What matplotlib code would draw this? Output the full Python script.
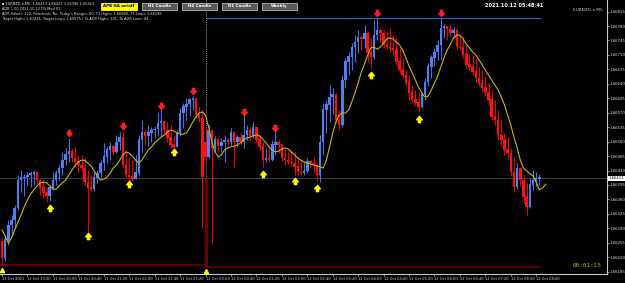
import matplotlib
matplotlib.use('Agg')
import matplotlib.pyplot as plt
import matplotlib.transforms as mtransforms
from matplotlib.path import Path
from matplotlib.patches import Rectangle

# ── DATA: EURNZD.a M5 candles, 11 Oct 18:40 .. 12 Oct 08:45 ──────────
opens = [
    1.66257, 1.66218, 1.66262, 1.66298, 1.66310, 1.66339, 1.66407, 1.66412, 1.66414, 1.66419,
    1.66422, 1.66426, 1.66407, 1.66388, 1.66376, 1.66368, 1.66388, 1.66407, 1.66424, 1.66436,
    1.66455, 1.66470, 1.66475, 1.66460, 1.66451, 1.66443, 1.66436, 1.66402, 1.66388, 1.66385,
    1.66412, 1.66424, 1.66448, 1.66463, 1.66480, 1.66487, 1.66475, 1.66499, 1.66509, 1.66443,
    1.66419, 1.66415, 1.66410, 1.66425, 1.66504, 1.66523, 1.66514, 1.66521, 1.66528, 1.66530,
    1.66545, 1.66548, 1.66528, 1.66509, 1.66492, 1.66487, 1.66521, 1.66569, 1.66584, 1.66590,
    1.66601, 1.66604, 1.66564, 1.66557, 1.66497, 1.66463, 1.66528, 1.66485, 1.66504, 1.66489,
    1.66499, 1.66502, 1.66499, 1.66521, 1.66499, 1.66509, 1.66499, 1.66516, 1.66528, 1.66514,
    1.66535, 1.66504, 1.66487, 1.66455, 1.66460, 1.66455, 1.66492, 1.66499, 1.66492, 1.66460,
    1.66455, 1.66450, 1.66448, 1.66439, 1.66426, 1.66424, 1.66428, 1.66451, 1.66448, 1.66443,
    1.66419, 1.66499, 1.66577, 1.66589, 1.66608, 1.66613, 1.66552, 1.66540, 1.66649, 1.66693,
    1.66705, 1.66729, 1.66741, 1.66753, 1.66748, 1.66763, 1.66715, 1.66705, 1.66758, 1.66770,
    1.66763, 1.66734, 1.66728, 1.66725, 1.66722, 1.66693, 1.66673, 1.66661, 1.66642, 1.66618,
    1.66601, 1.66594, 1.66584, 1.66613, 1.66644, 1.66681, 1.66703, 1.66717, 1.66734, 1.66775,
    1.66778, 1.66772, 1.66763, 1.66770, 1.66729, 1.66727, 1.66710, 1.66686, 1.66681, 1.66669,
    1.66654, 1.66642, 1.66630, 1.66620, 1.66601, 1.66560, 1.66552, 1.66516, 1.66504, 1.66480,
    1.66472, 1.66426, 1.66390, 1.66436, 1.66407, 1.66366, 1.66342, 1.66395, 1.66405, 1.66410,
]
highs = [
    1.66267, 1.66271, 1.66310, 1.66322, 1.66346, 1.66419, 1.66431, 1.66422, 1.66426, 1.66430,
    1.66431, 1.66426, 1.66412, 1.66407, 1.66390, 1.66395, 1.66426, 1.66431, 1.66443, 1.66475,
    1.66485, 1.66509, 1.66485, 1.66487, 1.66468, 1.66468, 1.66460, 1.66431, 1.66419, 1.66426,
    1.66431, 1.66455, 1.66497, 1.66487, 1.66499, 1.66492, 1.66516, 1.66523, 1.66523, 1.66480,
    1.66460, 1.66455, 1.66468, 1.66516, 1.66552, 1.66528, 1.66540, 1.66535, 1.66538, 1.66572,
    1.66577, 1.66552, 1.66548, 1.66540, 1.66516, 1.66528, 1.66581, 1.66594, 1.66606, 1.66606,
    1.66610, 1.66601, 1.66584, 1.66577, 1.66533, 1.66540, 1.66530, 1.66514, 1.66509, 1.66509,
    1.66516, 1.66509, 1.66533, 1.66525, 1.66516, 1.66521, 1.66564, 1.66540, 1.66533, 1.66548,
    1.66535, 1.66516, 1.66499, 1.66485, 1.66485, 1.66504, 1.66526, 1.66504, 1.66497, 1.66482,
    1.66475, 1.66480, 1.66475, 1.66463, 1.66455, 1.66451, 1.66460, 1.66455, 1.66463, 1.66448,
    1.66516, 1.66594, 1.66601, 1.66637, 1.66630, 1.66618, 1.66577, 1.66661, 1.66703, 1.66717,
    1.66739, 1.66758, 1.66770, 1.66756, 1.66782, 1.66768, 1.66751, 1.66795, 1.66799, 1.66775,
    1.66770, 1.66765, 1.66775, 1.66758, 1.66751, 1.66727, 1.66703, 1.66673, 1.66661, 1.66637,
    1.66625, 1.66620, 1.66620, 1.66654, 1.66690, 1.66710, 1.66727, 1.66746, 1.66799, 1.66785,
    1.66780, 1.66782, 1.66778, 1.66775, 1.66761, 1.66753, 1.66734, 1.66712, 1.66710, 1.66703,
    1.66681, 1.66673, 1.66657, 1.66644, 1.66625, 1.66601, 1.66577, 1.66552, 1.66521, 1.66511,
    1.66485, 1.66463, 1.66448, 1.66439, 1.66419, 1.66402, 1.66412, 1.66431, 1.66426, 1.66421,
]
lows = [
    1.66201, 1.66212, 1.66250, 1.66271, 1.66296, 1.66335, 1.66378, 1.66368, 1.66393, 1.66390,
    1.66395, 1.66400, 1.66371, 1.66363, 1.66354, 1.66356, 1.66383, 1.66395, 1.66407, 1.66419,
    1.66443, 1.66451, 1.66451, 1.66441, 1.66424, 1.66430, 1.66395, 1.66281, 1.66380, 1.66380,
    1.66400, 1.66412, 1.66431, 1.66448, 1.66455, 1.66468, 1.66472, 1.66480, 1.66436, 1.66412,
    1.66405, 1.66405, 1.66410, 1.66420, 1.66472, 1.66492, 1.66489, 1.66499, 1.66509, 1.66514,
    1.66514, 1.66521, 1.66499, 1.66485, 1.66480, 1.66487, 1.66514, 1.66533, 1.66552, 1.66562,
    1.66577, 1.66557, 1.66548, 1.66291, 1.66443, 1.66460, 1.66254, 1.66475, 1.66480, 1.66475,
    1.66451, 1.66485, 1.66489, 1.66439, 1.66487, 1.66492, 1.66485, 1.66504, 1.66504, 1.66509,
    1.66497, 1.66480, 1.66439, 1.66451, 1.66450, 1.66452, 1.66468, 1.66472, 1.66453, 1.66443,
    1.66445, 1.66441, 1.66419, 1.66420, 1.66418, 1.66420, 1.66425, 1.66436, 1.66424, 1.66405,
    1.66402, 1.66468, 1.66521, 1.66548, 1.66567, 1.66545, 1.66528, 1.66535, 1.66630, 1.66661,
    1.66673, 1.66693, 1.66715, 1.66722, 1.66727, 1.66693, 1.66678, 1.66700, 1.66746, 1.66741,
    1.66727, 1.66722, 1.66718, 1.66710, 1.66686, 1.66666, 1.66654, 1.66635, 1.66601, 1.66594,
    1.66586, 1.66572, 1.66581, 1.66601, 1.66635, 1.66654, 1.66683, 1.66698, 1.66698, 1.66751,
    1.66746, 1.66756, 1.66753, 1.66722, 1.66722, 1.66703, 1.66678, 1.66673, 1.66661, 1.66644,
    1.66635, 1.66620, 1.66610, 1.66589, 1.66552, 1.66540, 1.66504, 1.66492, 1.66468, 1.66460,
    1.66417, 1.66378, 1.66385, 1.66395, 1.66351, 1.66322, 1.66340, 1.66383, 1.66393, 1.66396,
]
closes = [
    1.66218, 1.66262, 1.66298, 1.66310, 1.66339, 1.66407, 1.66412, 1.66414, 1.66419, 1.66422,
    1.66426, 1.66407, 1.66388, 1.66376, 1.66368, 1.66388, 1.66407, 1.66424, 1.66436, 1.66455,
    1.66470, 1.66475, 1.66460, 1.66451, 1.66443, 1.66436, 1.66402, 1.66388, 1.66385, 1.66412,
    1.66424, 1.66448, 1.66463, 1.66480, 1.66487, 1.66475, 1.66499, 1.66509, 1.66443, 1.66419,
    1.66415, 1.66410, 1.66425, 1.66504, 1.66523, 1.66514, 1.66521, 1.66528, 1.66530, 1.66545,
    1.66548, 1.66528, 1.66509, 1.66492, 1.66487, 1.66521, 1.66569, 1.66584, 1.66590, 1.66601,
    1.66604, 1.66564, 1.66557, 1.66414, 1.66463, 1.66528, 1.66485, 1.66504, 1.66489, 1.66499,
    1.66502, 1.66499, 1.66521, 1.66499, 1.66509, 1.66499, 1.66516, 1.66528, 1.66514, 1.66535,
    1.66504, 1.66487, 1.66455, 1.66460, 1.66455, 1.66492, 1.66499, 1.66492, 1.66460, 1.66455,
    1.66450, 1.66448, 1.66439, 1.66426, 1.66424, 1.66428, 1.66451, 1.66448, 1.66443, 1.66419,
    1.66499, 1.66577, 1.66589, 1.66608, 1.66613, 1.66552, 1.66540, 1.66649, 1.66693, 1.66705,
    1.66729, 1.66741, 1.66753, 1.66748, 1.66763, 1.66715, 1.66705, 1.66758, 1.66770, 1.66763,
    1.66734, 1.66728, 1.66725, 1.66722, 1.66693, 1.66673, 1.66661, 1.66642, 1.66618, 1.66601,
    1.66594, 1.66584, 1.66613, 1.66644, 1.66681, 1.66703, 1.66717, 1.66734, 1.66775, 1.66778,
    1.66772, 1.66763, 1.66770, 1.66729, 1.66727, 1.66710, 1.66686, 1.66681, 1.66669, 1.66654,
    1.66642, 1.66630, 1.66620, 1.66601, 1.66560, 1.66552, 1.66516, 1.66504, 1.66480, 1.66472,
    1.66426, 1.66390, 1.66436, 1.66407, 1.66366, 1.66342, 1.66395, 1.66405, 1.66410, 1.66413,
]
# yellow moving average (drawn 2 bars past the last candle)
ma = [
    1.66286, 1.66271, 1.66254, 1.66267, 1.66286, 1.66305, 1.66322, 1.66342, 1.66359, 1.66373,
    1.66383, 1.66393, 1.66400, 1.66402, 1.66400, 1.66393, 1.66385, 1.66385, 1.66393, 1.66400,
    1.66407, 1.66419, 1.66431, 1.66443, 1.66451, 1.66455, 1.66455, 1.66448, 1.66441, 1.66429,
    1.66417, 1.66407, 1.66409, 1.66414, 1.66424, 1.66436, 1.66443, 1.66455, 1.66468, 1.66475,
    1.66472, 1.66465, 1.66455, 1.66448, 1.66455, 1.66468, 1.66480, 1.66487, 1.66497, 1.66504,
    1.66511, 1.66516, 1.66523, 1.66528, 1.66526, 1.66521, 1.66518, 1.66518, 1.66521, 1.66533,
    1.66548, 1.66560, 1.66569, 1.66572, 1.66564, 1.66535, 1.66499, 1.66475, 1.66463, 1.66468,
    1.66480, 1.66485, 1.66487, 1.66489, 1.66492, 1.66497, 1.66504, 1.66509, 1.66511, 1.66514,
    1.66516, 1.66514, 1.66506, 1.66497, 1.66487, 1.66480, 1.66475, 1.66477, 1.66482, 1.66485,
    1.66482, 1.66475, 1.66468, 1.66460, 1.66455, 1.66451, 1.66448, 1.66446, 1.66443, 1.66441,
    1.66439, 1.66436, 1.66455, 1.66487, 1.66521, 1.66548, 1.66564, 1.66569, 1.66569, 1.66577,
    1.66596, 1.66618, 1.66642, 1.66669, 1.66688, 1.66710, 1.66727, 1.66729, 1.66724, 1.66729,
    1.66739, 1.66749, 1.66751, 1.66749, 1.66741, 1.66734, 1.66722, 1.66703, 1.66683, 1.66666,
    1.66649, 1.66632, 1.66618, 1.66608, 1.66610, 1.66625, 1.66642, 1.66659, 1.66681, 1.66703,
    1.66722, 1.66736, 1.66751, 1.66758, 1.66758, 1.66749, 1.66736, 1.66727, 1.66717, 1.66710,
    1.66698, 1.66686, 1.66673, 1.66661, 1.66649, 1.66637, 1.66625, 1.66608, 1.66589, 1.66564,
    1.66540, 1.66511, 1.66485, 1.66455, 1.66436, 1.66429, 1.66422, 1.66417, 1.66402, 1.66383,
    1.66388, 1.66397,
]

# fractal arrows (bar index, price)
red_arrow_bars = [21, 38, 50, 60, 76, 86, 118, 138]
red_arrow_price = [1.66521, 1.66538, 1.66586, 1.66623, 1.66572, 1.66533, 1.66811, 1.66811]
yel_arrow_bars = [15, 27, 40, 54, 82, 92, 99, 116, 131]
yel_arrow_price = [1.66339, 1.66271, 1.66397, 1.66475, 1.66422, 1.66405, 1.66388, 1.66661, 1.66555]

time_labels = ["11 Oct 2021", "11 Oct 19:20", "11 Oct 20:00", "11 Oct 20:40", "11 Oct 21:20",
               "11 Oct 22:00", "11 Oct 22:40", "11 Oct 23:20", "12 Oct 00:00", "12 Oct 00:40",
               "12 Oct 01:20", "12 Oct 02:00", "12 Oct 02:40", "12 Oct 03:20", "12 Oct 04:00",
               "12 Oct 04:40", "12 Oct 05:20", "12 Oct 06:00", "12 Oct 06:40", "12 Oct 07:20",
               "12 Oct 08:00", "12 Oct 08:40"]
price_ticks = [1.66185, 1.66220, 1.66255, 1.66290, 1.66325, 1.66360, 1.66395, 1.66430,
               1.66465, 1.66500, 1.66535, 1.66570, 1.66605, 1.66640, 1.66675, 1.66710,
               1.66745, 1.66780, 1.66815]

bid = 1.66411
t1_high = 1.66800
t1_low = 1.66196
prev_low = 1.66201
day_start = 64

header = ["\u25aa EURNZD.a,M5  1.66413 1.66421 1.66396 1.66413",
          "ADR 1.00 2021.10.12 D1 Mod 01",
          "ADR Value= 122, Reached= No, Today's Range= 60, T1 High= 1.66800, T1 Low= 1.66196",
          "Target High= 1.67421, Target Low= 1.65575 | To ADR High= 181, To ADR Low= 84"]
buttons = ["APB HA on/off", "H1 Candle", "H4 Candle", "D1 Candle", "Weekly"]

# ── FIGURE ───────────────────────────────────────────────────
W, H = 625, 283
fig = plt.figure(figsize=(W / 100, H / 100), dpi=100, facecolor='black')
ax = fig.add_axes([0, 9 / H, 607 / W, 274 / H])
ax.set_facecolor('black')
ax.set_xlim(-0.63, 190.25)
ax.set_ylim(1.661794, 1.66843)

n = len(closes)
idx = list(range(n))
bull = [c >= o for o, c in zip(opens, closes)]
col_body = ['#4f7ff5' if b else '#ff1010' for b in bull]
col_wick = ['#4470e6' if b else '#ee0000' for b in bull]

# background lines
ax.axhline(bid, color='#3a3a3a', lw=0.8, zorder=1)
ax.vlines(day_start, bid, 1.66843, color='#8a8a8a', lw=0.7, linestyles=(0, (1, 1)), zorder=1)
ax.vlines(day_start + 0.1, t1_low, bid, color='#6e0000', lw=2.2, zorder=1)
ax.hlines(prev_low, -0.63, day_start, color='#6e0000', lw=1.2, zorder=1)
ax.hlines(t1_low, day_start, n - 0.5, color='#6e0000', lw=1.2, zorder=1)
ax.hlines(t1_high, day_start, n - 0.5, color='#2a64c8', lw=0.9, zorder=1)

# candles
ax.vlines(idx, lows, highs, colors=col_wick, lw=0.8, zorder=2)
ax.bar(idx, [abs(c - o) + 0.000012 for o, c in zip(opens, closes)],
       bottom=[min(o, c) for o, c in zip(opens, closes)],
       width=0.78, color=col_body, linewidth=0, zorder=3)

# moving average
ax.plot(range(len(ma)), ma, color='#c8b800', lw=0.8, zorder=4)

# arrows
dn = Path([(-0.35, 1), (0.35, 1), (0.35, 0.1), (0.9, 0.1), (0, -1), (-0.9, 0.1),
           (-0.35, 0.1), (-0.35, 1)],
          [Path.MOVETO] + [Path.LINETO] * 6 + [Path.CLOSEPOLY])
up = Path([(x, -y) for x, y in dn.vertices], dn.codes)
ax.plot(red_arrow_bars, red_arrow_price, ls='none', marker=dn, ms=4.5,
        color='#ff2020', mec='#ff2020', zorder=5)
ax.plot(yel_arrow_bars, yel_arrow_price, ls='none', marker=up, ms=4.5,
        color='#ffff00', mec='#ffff00', zorder=5)
ax.plot([0, day_start], [1.66189, 1.66187], ls='none', marker='^', ms=3,
        color='#ffff00', zorder=5)

# axes, ticks
for s in ['top', 'left']:
    ax.spines[s].set_visible(False)
for s in ['right', 'bottom']:
    ax.spines[s].set_color('#c8c8c8')
    ax.spines[s].set_linewidth(0.8)
ax.yaxis.tick_right()
ax.set_yticks(price_ticks)
ax.set_yticklabels([f'{p:.5f}' for p in price_ticks])
ax.set_xticks([8 * k for k in range(len(time_labels))])
ax.set_xticklabels(time_labels)
ax.tick_params(axis='x', colors='#c8c8c8', labelcolor='#d8d8d8', labelsize=2.6,
               length=1.5, width=0.5, pad=0.5)
ax.tick_params(axis='y', colors='#c8c8c8', labelcolor='#e0e0e0', labelsize=2.75,
               length=1.5, width=0.5, pad=0.4)
for lb in ax.get_xticklabels():
    lb.set_ha('left')

bt = mtransforms.blended_transform_factory(ax.transAxes, ax.transData)
ax.text(1.003, bid, f'{bid:.5f}', transform=bt, fontsize=2.7, color='black', va='center',
        ha='left', clip_on=False, zorder=6,
        bbox=dict(boxstyle='square,pad=0.2', fc='white', ec='white', lw=0))


# ── OVERLAY TEXT ─────────────────────────────────────────────
def px(x, y):
    return x / W, 1 - y / H


for k, line in enumerate(header):
    fig.text(*px(2, 4 + 5 * k), line, fontsize=2.55, color='#e6e6e6', va='center', ha='left')

bx = [101, 142, 182, 222, 262]
for k, (b, x0) in enumerate(zip(buttons, bx)):
    w = 36 if k == 0 else 35
    fc = '#ffff00' if k == 0 else '#5a5a5a'
    ec = '#ffff00' if k == 0 else '#b8b8b8'
    tc = 'black' if k == 0 else 'white'
    fig.patches.append(Rectangle(px(x0, 10), w / W, 7.5 / H, transform=fig.transFigure,
                                 fc=fc, ec=ec, lw=0.6))
    fig.text(*px(x0 + w / 2, 6.3), b, fontsize=2.9, color=tc, fontweight='bold',
             ha='center', va='center')

fig.text(*px(485, 5.5), '2021.10.12 05:48:41', fontsize=3.6, color='white',
         fontweight='bold', ha='left', va='center')
fig.text(*px(573, 10), 'EURNZD.a M5', fontsize=3.1, color='#c8c8c8', ha='left', va='center')
fig.text(*px(573, 265.5), '00:01:15', fontsize=4.3, color='#b8b800',
         family='DejaVu Sans Mono', ha='left', va='center')

fig.savefig('out.png', dpi=100, facecolor='black')
